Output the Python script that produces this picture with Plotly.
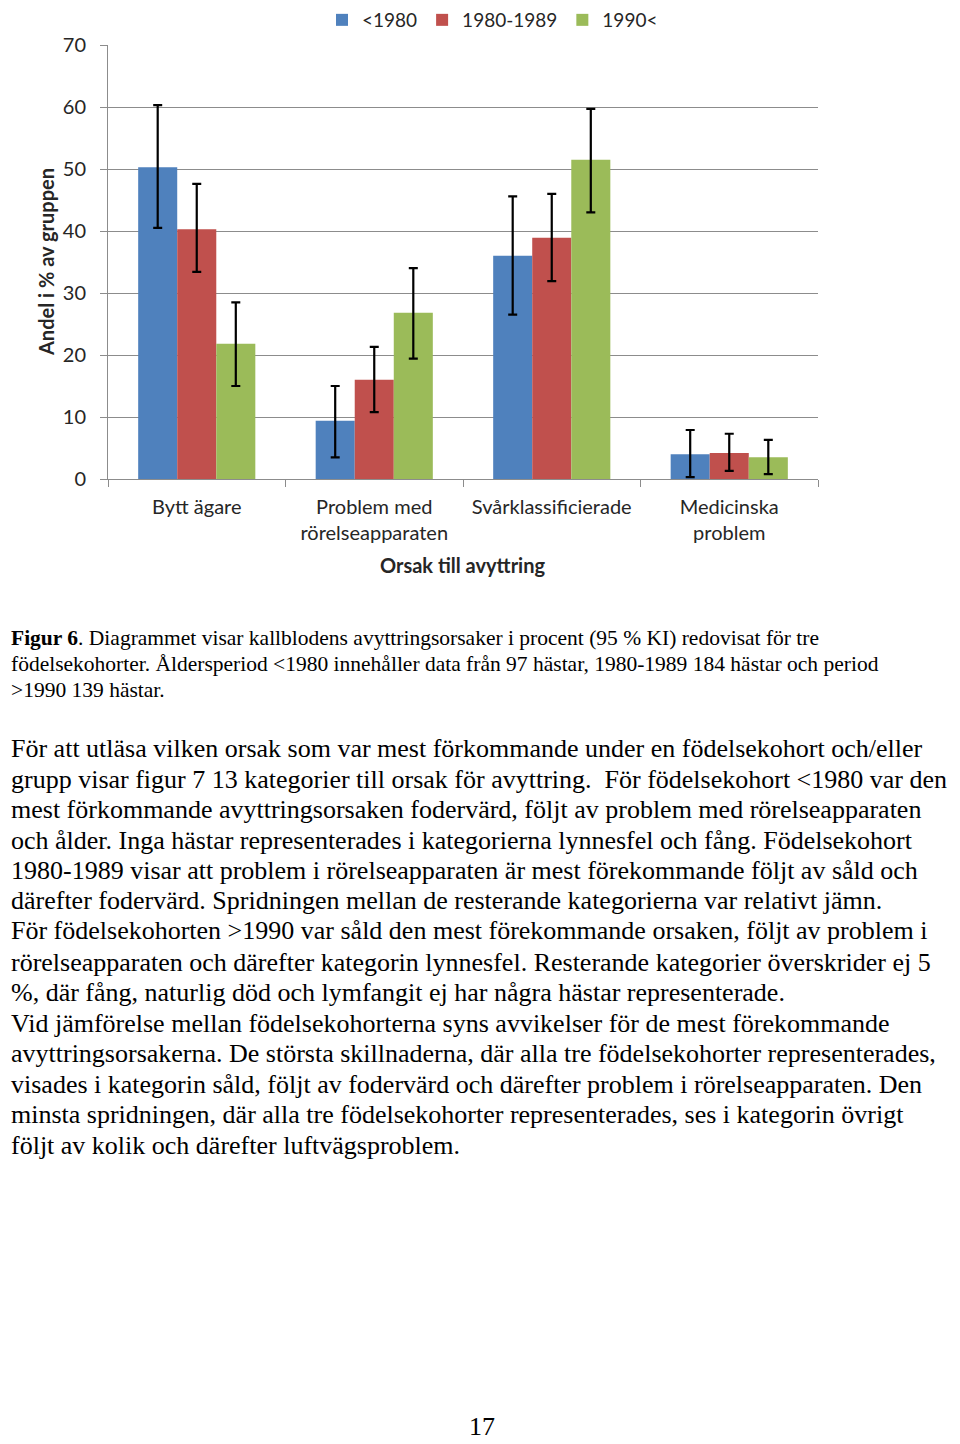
import plotly.graph_objects as go

categories = ["Bytt ägare", "Problem med<br>rörelseapparaten", "Svårklassificierade", "Medicinska<br>problem"]
series_names = ["<1980", "1980-1989", "1990<"]
colors = ["#4F81BD", "#C0504D", "#9BBB59"]

val_1 = [50.3, 9.4, 36.0, 4.0]
low_1 = [40.5, 3.5, 26.5, 0.3]
high_1 = [60.3, 15.0, 45.6, 7.9]

val_2 = [40.3, 16.0, 38.9, 4.2]
low_2 = [33.4, 10.8, 31.9, 1.3]
high_2 = [47.6, 21.3, 46.0, 7.3]

val_3 = [21.8, 26.8, 51.5, 3.5]
low_3 = [15.0, 19.4, 43.0, 0.8]
high_3 = [28.5, 34.0, 59.7, 6.3]

y_ticks = [0, 10, 20, 30, 40, 50, 60, 70]

caption_lines = [
    "<b>Figur 6</b>. Diagrammet visar kallblodens avyttringsorsaker i procent (95 % KI) redovisat för tre",
    "födelsekohorter. Åldersperiod <1980 innehåller data från 97 hästar, 1980-1989 184 hästar och period",
    ">1990 139 hästar.",
]
body_lines = [
    "För att utläsa vilken orsak som var mest förkommande under en födelsekohort och/eller",
    "grupp visar figur 7 13 kategorier till orsak för avyttring.  För födelsekohort <1980 var den",
    "mest förkommande avyttringsorsaken fodervärd, följt av problem med rörelseapparaten",
    "och ålder. Inga hästar representerades i kategorierna lynnesfel och fång. Födelsekohort",
    "1980-1989 visar att problem i rörelseapparaten är mest förekommande följt av såld och",
    "därefter fodervärd. Spridningen mellan de resterande kategorierna var relativt jämn.",
    "För födelsekohorten >1990 var såld den mest förekommande orsaken, följt av problem i",
    "rörelseapparaten och därefter kategorin lynnesfel. Resterande kategorier överskrider ej 5",
    "%, där fång, naturlig död och lymfangit ej har några hästar representerade.",
    "Vid jämförelse mellan födelsekohorterna syns avvikelser för de mest förekommande",
    "avyttringsorsakerna. De största skillnaderna, där alla tre födelsekohorter representerades,",
    "visades i kategorin såld, följt av fodervärd och därefter problem i rörelseapparaten. Den",
    "minsta spridningen, där alla tre födelsekohorter representerades, ses i kategorin övrigt",
    "följt av kolik och därefter luftvägsproblem.",
]
page_number = "17"

OFF = 8  # browser body margin
W, H = 960 - OFF, 1444 - OFF
L, R, T, B = 108 - OFF, 818 - OFF, 45 - OFF, 479 - OFF

def px_x(px):
    return (px - OFF - L) / (R - L)

def px_y(py):
    return (B - (py - OFF)) / (B - T)

AX_FONT = dict(family="Lato", size=20, color="#262626")

fig = go.Figure()
for name, col, v, lo, hi in [
    (series_names[0], colors[0], val_1, low_1, high_1),
    (series_names[1], colors[1], val_2, low_2, high_2),
    (series_names[2], colors[2], val_3, low_3, high_3),
]:
    fig.add_trace(go.Bar(
        x=categories, y=v, name=name, marker=dict(color=col, line=dict(width=0)),
        error_y=dict(type="data", symmetric=False,
                     array=[h - a for h, a in zip(hi, v)],
                     arrayminus=[a - l for a, l in zip(v, lo)],
                     color="black", thickness=2.2, width=4.5),
    ))

fig.update_layout(
    width=W, height=H,
    margin=dict(l=L, r=W - R, t=T, b=H - B, autoexpand=False),
    paper_bgcolor="white", plot_bgcolor="white",
    barmode="group", bargap=0.34, bargroupgap=0,
    font=AX_FONT,
    showlegend=True,
    legend=dict(orientation="h", x=px_x(322), xanchor="left", y=px_y(1), yanchor="top",
                font=dict(family="Lato", size=19, color="#262626"),
                itemwidth=30, tracegroupgap=0, bgcolor="rgba(0,0,0,0)"),
)
fig.update_xaxes(
    showline=True, linecolor="#8c8c8c", linewidth=1,
    ticks="outside", tickson="boundaries", ticklen=7, tickcolor="#8c8c8c",
    showgrid=False, tickfont=AX_FONT, ticklabelstandoff=10,
)
fig.update_yaxes(
    range=[0, 70], tickvals=y_ticks, showline=True, linecolor="#8c8c8c", linewidth=1,
    ticks="outside", ticklen=7, tickcolor="#8c8c8c",
    showgrid=True, gridcolor="#8c8c8c", gridwidth=1, zeroline=False,
    tickfont=AX_FONT, ticklabelstandoff=10,
)

ann = []
ann.append(dict(text="<b>Andel i % av gruppen</b>", xref="paper", yref="paper",
                x=px_x(46), y=px_y(262), textangle=-90, showarrow=False,
                xanchor="center", yanchor="middle", font=AX_FONT))
ann.append(dict(text="<b>Orsak till avyttring</b>", xref="paper", yref="paper",
                x=px_x(462), y=px_y(565), showarrow=False,
                xanchor="center", yanchor="middle", font=AX_FONT))

cap_y = [638, 664, 690]
for t, yy in zip(caption_lines, cap_y):
    ann.append(dict(text=t, xref="paper", yref="paper", x=px_x(9), y=px_y(yy),
                    showarrow=False, xanchor="left", yanchor="middle",
                    font=dict(family="Liberation Serif", size=21.5, color="black")))
body_y = [748, 779, 809, 840, 870, 900, 931, 962, 992, 1023, 1053, 1084, 1114, 1145]
for t, yy in zip(body_lines, body_y):
    ann.append(dict(text=t, xref="paper", yref="paper", x=px_x(9), y=px_y(yy),
                    showarrow=False, xanchor="left", yanchor="middle",
                    font=dict(family="Liberation Serif", size=26, color="black")))
ann.append(dict(text=page_number, xref="paper", yref="paper", x=px_x(482), y=px_y(1426),
                showarrow=False, xanchor="center", yanchor="middle",
                font=dict(family="Liberation Serif", size=26, color="black")))
fig.update_layout(annotations=ann)

fig.write_html("out.html")
